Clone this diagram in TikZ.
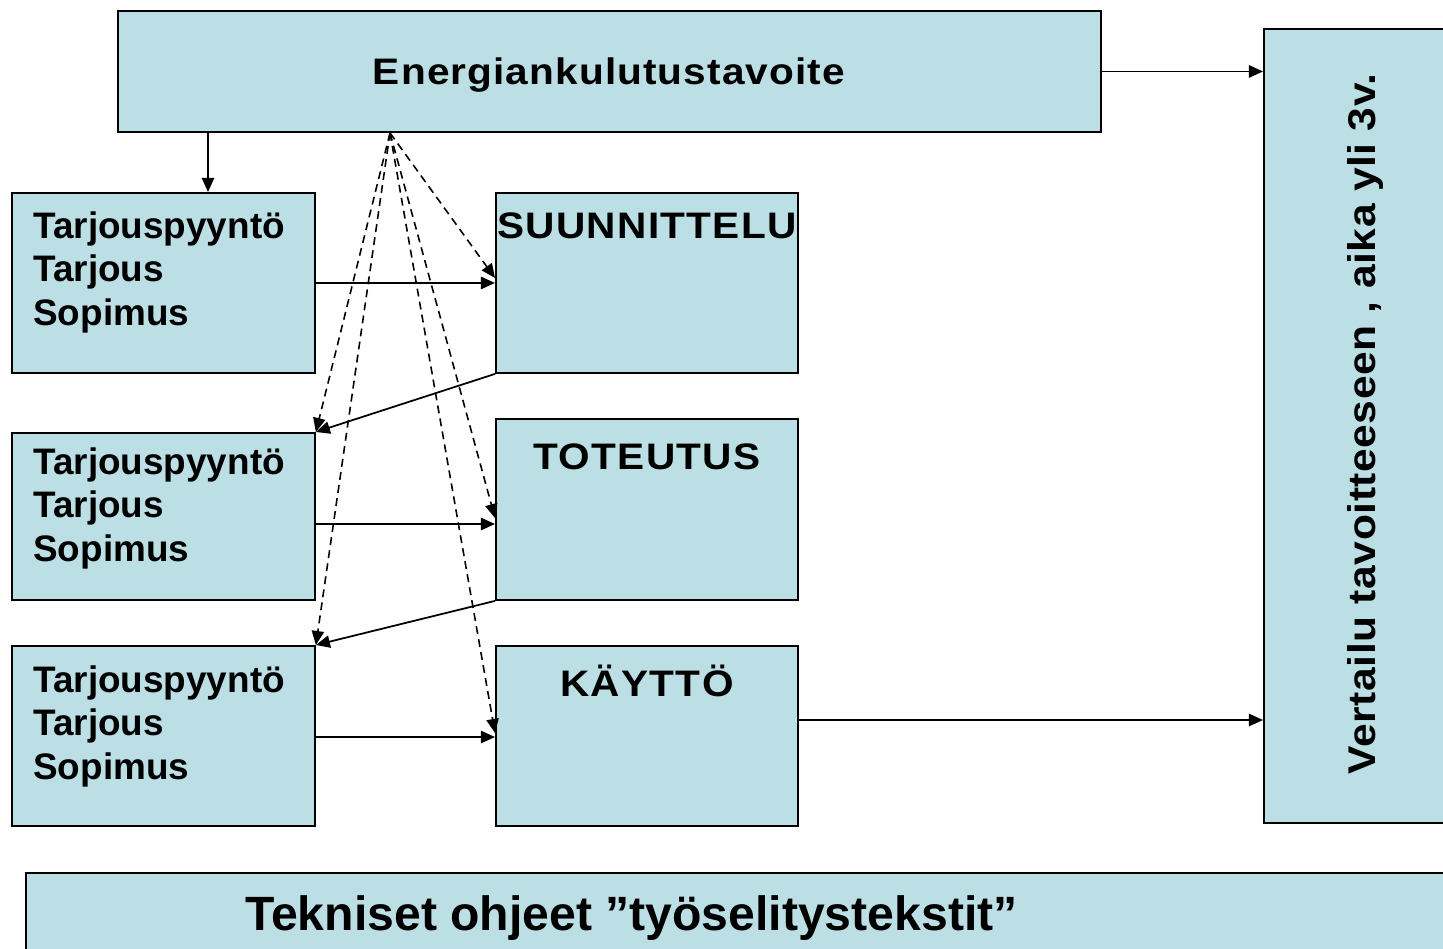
\documentclass[tikz,border=0pt]{standalone}
\usepackage{fontspec}
\setmainfont{Liberation Sans}
\usetikzlibrary{arrows.meta}
\definecolor{boxblue}{RGB}{187,223,228}

\begin{document}
\begin{tikzpicture}[x=0.02cm,y=-0.02cm,>={Triangle[length=8pt,width=7pt]},
  box/.style={draw,line width=1.1pt,fill=boxblue,anchor=north west,inner sep=0pt},
  word/.style={font=\bfseries\fontsize{21pt}{24.9pt}\selectfont,inner sep=0pt},
  wide/.style={inner sep=0pt,font=\bfseries\fontsize{21pt}{24.9pt}\selectfont\addfontfeatures{FakeStretch=1.1,LetterSpace=#1}},
  link/.style={->,line width=1pt},
  hint/.style={->,line width=0.9pt,dash pattern=on 4.5pt off 3pt}]

\useasboundingbox (0,0) rectangle (1443,948);

% boxes
\node[box,minimum width=19.66cm,minimum height=2.42cm](goal) at (117,10){};
\node[box,minimum width=4.2cm,minimum height=15.88cm](cmp) at (1263,28){};
\node[box,minimum width=28.8cm,minimum height=2cm](std) at (25,872){};
\node[box,minimum width=6.06cm,minimum height=3.6cm](req1) at (11,192){};
\node[box,minimum width=6.06cm,minimum height=3.34cm](req2) at (11,432){};
\node[box,minimum width=6.06cm,minimum height=3.6cm](req3) at (11,645){};
\node[box,minimum width=6.04cm,minimum height=3.6cm](des) at (495,192){};
\node[box,minimum width=6.04cm,minimum height=3.62cm](bld) at (495,418){};
\node[box,minimum width=6.04cm,minimum height=3.6cm](use) at (495,645){};

% texts
\node[wide=3,anchor=base](goaltxt) at (609,84){Energiankulutustavoite};
\node[anchor=base,rotate=90,inner sep=0pt,font=\bfseries\fontsize{22pt}{26pt}\selectfont\addfontfeatures{FakeStretch=1.1,LetterSpace=1.5}](cmptxt) at (1375,424){Vertailu tavoitteeseen , aika yli 3v.};
\node[word,anchor=base west,font=\bfseries\fontsize{27.4pt}{30pt}\selectfont](stdtxt) at (245,930){Tekniset ohjeet ”työselitystekstit”};
\node[word,anchor=north west,align=left](req1txt) at (33,211){Tarjouspyyntö\\Tarjous\\Sopimus};
\node[word,anchor=north west,align=left](req2txt) at (33,447){Tarjouspyyntö\\Tarjous\\Sopimus};
\node[word,anchor=north west,align=left](req3txt) at (33,665){Tarjouspyyntö\\Tarjous\\Sopimus};
\node[wide=3.5,anchor=base](destxt) at (647,238){SUUNNITTELU};
\node[wide=3.5,anchor=base](bldtxt) at (647,469){TOTEUTUS};
\node[wide=3.5,anchor=base](usetxt) at (647,696){KÄYTTÖ};

% solid connectors
\draw[link](goal.east)--(goal.east -| cmp.west);
\draw[link](use.east |- 0,720)--(cmp.west |- 0,720);
\draw[link](goal.south -| 208,0)--(req1.north -| 208,0);
\draw[link](req1.east)--(des.west);
\draw[link](req2.east |- 0,524)--(bld.west |- 0,524);
\draw[link](req3.east |- 0,737)--(use.west |- 0,737);
\draw[link](des.south west)--(req2.north east);
\draw[link](bld.south west)--(req3.north east);

% dashed connectors
\coordinate(hub) at (goal.south -| 390,0);
\draw[hint](hub)--(des.west |- 0,278);
\draw[hint](hub)--(req2.north east);
\draw[hint](hub)--(bld.west |- 0,518);
\draw[hint](hub)--(req3.north east);
\draw[hint](hub)--(use.west |- 0,733);

\end{tikzpicture}
\end{document}
